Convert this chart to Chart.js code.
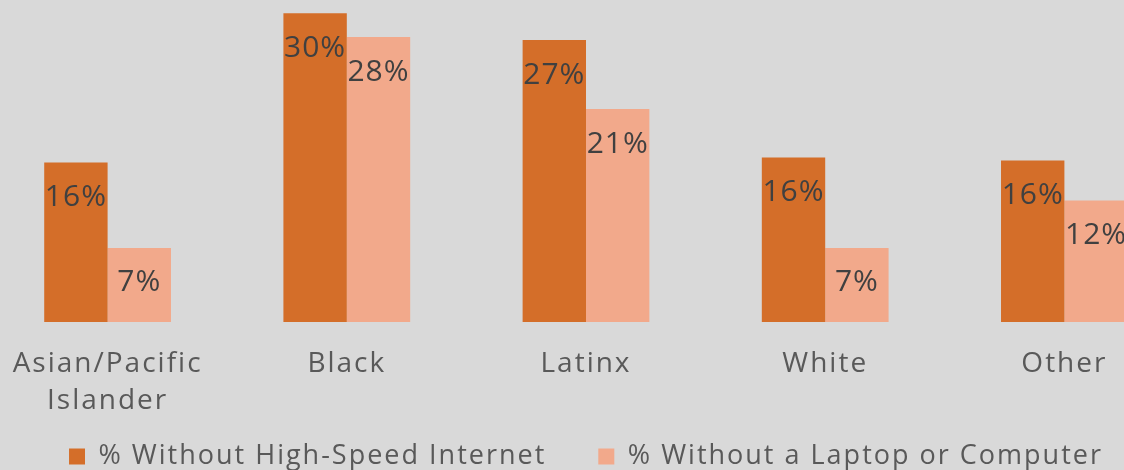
<!DOCTYPE html>
<html>
<head>
<meta charset="utf-8">
<script src="https://cdn.jsdelivr.net/npm/chart.js@4.4.0/dist/chart.umd.min.js"></script>
<style>
  html, body { margin: 0; padding: 0; background: #d9d9d9; overflow: hidden; }
  #wrap { position: absolute; left: -12px; top: 0; width: 1196px; height: 470px; }
</style>
</head>
<body>
<div id="wrap"><canvas id="mycanvas"></canvas></div>
<script>
// values (percent)
var groups = [["Asian/Pacific", "Islander"], "Black", "Latinx", "White", "Other"];
var noInternet = [15.5, 30.0, 27.4, 16.0, 15.7];
var noComputer = [7.2, 27.7, 20.7, 7.2, 11.8];
var seriesNames = ["% Without High-Speed Internet", "% Without a Laptop or Computer"];

var fontName = "'Open Sans', 'Noto Sans', sans-serif";

// the original font is wide, so space the letters out a bit
var spacing = {
	id: "spacing",
	beforeUpdate: function(chart) { chart.ctx.letterSpacing = "2px"; },
	beforeLayout: function(chart) { chart.ctx.letterSpacing = "2px"; },
	beforeDraw: function(chart) { chart.ctx.letterSpacing = "2px"; }
};

// percent labels just under the top of every bar
var barLabels = {
	id: "barLabels",
	afterDatasetsDraw: function(chart) {
		var ctx = chart.ctx;
		ctx.save();
		ctx.letterSpacing = "1px";
		ctx.font = "30px " + fontName;
		ctx.fillStyle = "#404040";
		ctx.textAlign = "center";
		ctx.textBaseline = "middle";
		chart.data.datasets.forEach(function(ds, i) {
			chart.getDatasetMeta(i).data.forEach(function(bar, j) {
				ctx.fillText(Math.round(ds.data[j]) + "%", bar.x, bar.y + 35);
			});
		});
		ctx.restore();
	}
};

var chartdata = {
	labels: groups,
	datasets: [
		{
			label: seriesNames[0],
			backgroundColor: "#d46e29",
			data: noInternet
		},
		{
			label: seriesNames[1],
			backgroundColor: "#f2a98b",
			data: noComputer
		}
	]
};

var ctx = document.getElementById("mycanvas");

var BarGraph = new Chart(ctx, {
	type: "bar",
	data: chartdata,
	plugins: [spacing, barLabels],
	options: {
		responsive: true,
		maintainAspectRatio: false,
		animation: false,
		layout: { padding: { top: 0, bottom: -10, left: 0, right: 0 } },
		datasets: {
			bar: { barPercentage: 1.0, categoryPercentage: 0.53 }
		},
		scales: {
			y: { display: false, min: 0, max: 31.3 },
			x: {
				grid: { display: false },
				border: { display: false },
				ticks: {
					color: "#595959",
					font: { family: fontName, size: 28, lineHeight: 1.3 },
					padding: 16,
					maxRotation: 0
				},
				afterFit: function(scale) {
					scale.height = 480 - scale.chart.legend.height - 322;
					// the legend box overlaps the labels, so don't clip them
					scale._computeLabelArea = function() { return undefined; };
				}
			}
		},
		plugins: {
			tooltip: { enabled: false },
			legend: {
				position: "bottom",
				labels: {
					color: "#595959",
					font: { family: fontName, size: 27 },
					boxWidth: 16,
					boxHeight: 16,
					padding: 52
				}
			}
		}
	}
});
</script>
</body>
</html>
